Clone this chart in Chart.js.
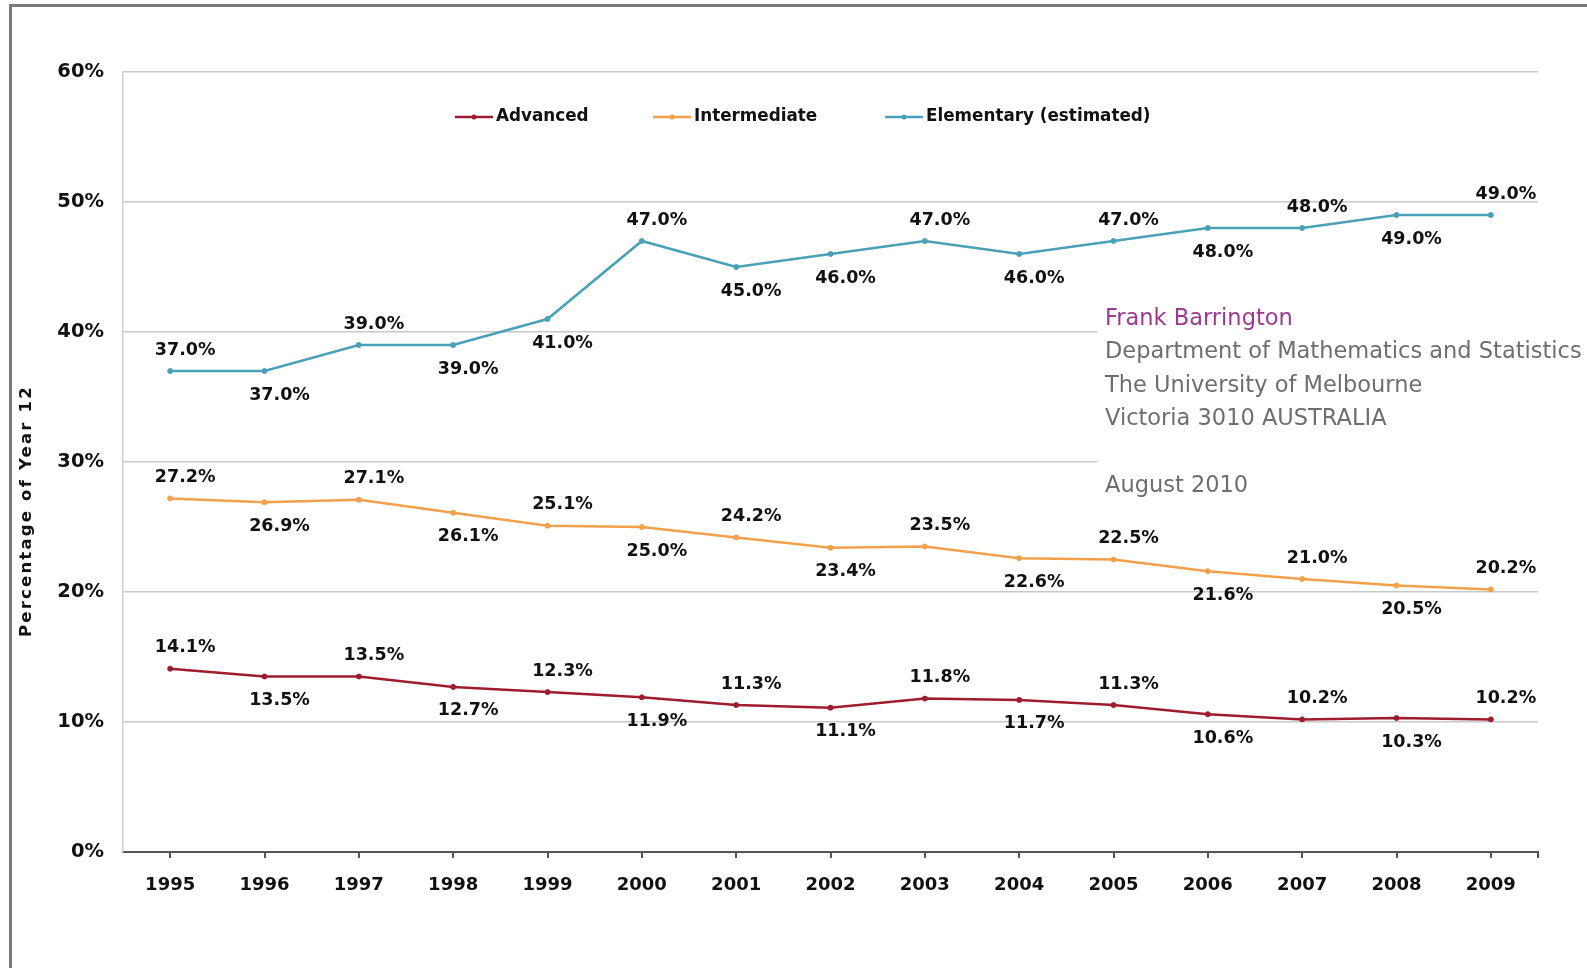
<!DOCTYPE html>
<html>
<head>
<meta charset="utf-8">
<script src="https://cdn.jsdelivr.net/npm/chart.js@4/dist/chart.umd.min.js"></script>
<style>
  html, body { margin: 0; padding: 0; background: #fff; }
  #wrap { position: relative; width: 1587px; height: 968px; }
  #frame {
    position: absolute; left: 9px; top: 4px; right: 0; bottom: -4px;
    border-top: 3px solid #7a7a7a; border-left: 3px solid #7a7a7a;
    pointer-events: none;
  }
</style>
</head>
<body>
<div id="wrap">
  <canvas id="year12-chart" width="1587" height="968"></canvas>
  <div id="frame"></div>
</div>
<script>
const years = ['1995', '1996', '1997', '1998', '1999', '2000', '2001', '2002',
  '2003', '2004', '2005', '2006', '2007', '2008', '2009'];
const advanced = [14.1, 13.5, 13.5, 12.7, 12.3, 11.9, 11.3, 11.1, 11.8, 11.7, 11.3, 10.6, 10.2, 10.3, 10.2];
const intermediate = [27.2, 26.9, 27.1, 26.1, 25.1, 25.0, 24.2, 23.4, 23.5, 22.6, 22.5, 21.6, 21.0, 20.5, 20.2];
const elementary = [37.0, 37.0, 39.0, 39.0, 41.0, 47.0, 45.0, 46.0, 47.0, 46.0, 47.0, 48.0, 48.0, 49.0, 49.0];
const yTicks = [0, 10, 20, 30, 40, 50, 60];
const creditLines = ['Frank Barrington', 'Department of Mathematics and Statistics',
  'The University of Melbourne', 'Victoria 3010 AUSTRALIA', '', 'August 2010'];

// label placement per point: 'a' above, 'b' below
const alternate = years.map((y, i) => (i % 2 === 0 ? 'a' : 'b'));
const elementaryPlace = ['a', 'b', 'a', 'b', 'b', 'a', 'b', 'b', 'a', 'b', 'a', 'b', 'a', 'b', 'a'];

const FAMILY = '"DejaVu Sans", Verdana, sans-serif';

function series(label, data, color, place) {
  return {
    label, data, place,
    borderColor: color, backgroundColor: color,
    pointBackgroundColor: color, pointBorderColor: color,
    borderWidth: 2.5, pointRadius: 2.5, pointBorderWidth: 1, pointHoverRadius: 2.5,
    tension: 0
  };
}

const pointLabels = {
  id: 'pointLabels',
  afterDatasetsDraw(chart) {
    const ctx = chart.ctx;
    ctx.save();
    ctx.font = 'bold 17.5px ' + FAMILY;
    ctx.fillStyle = '#111';
    ctx.textAlign = 'center';
    ctx.textBaseline = 'middle';
    chart.data.datasets.forEach((ds, di) => {
      chart.getDatasetMeta(di).data.forEach((pt, i) => {
        const dy = ds.place[i] === 'a' ? -21 : 24;
        ctx.fillText(ds.data[i].toFixed(1) + '%', pt.x + 15, pt.y + dy);
      });
    });
    ctx.restore();
  }
};

const extras = {
  id: 'extras',
  beforeDatasetsDraw(chart) {
    const ctx = chart.ctx;
    ctx.save();
    // credit block covers grid lines
    ctx.fillStyle = '#fff';
    ctx.fillRect(1097, 296, 490, 212);
    ctx.font = '22.5px ' + FAMILY;
    ctx.textBaseline = 'middle';
    ctx.textAlign = 'left';
    creditLines.forEach((t, i) => {
      ctx.fillStyle = i === 0 ? '#9b3a8e' : '#6e6e6e';
      ctx.fillText(t, 1105, 319 + i * 33.4);
    });
    ctx.restore();
  },
  afterDraw(chart) {
    const ctx = chart.ctx;
    ctx.save();
    // y axis title
    ctx.translate(27, 511);
    ctx.rotate(-Math.PI / 2);
    ctx.font = 'bold 16.5px ' + FAMILY;
    ctx.letterSpacing = '2.2px';
    ctx.fillStyle = '#111';
    ctx.textAlign = 'center';
    ctx.textBaseline = 'middle';
    ctx.fillText('Percentage of Year 12', 0, 0);
    ctx.restore();

    // legend
    ctx.save();
    ctx.font = 'bold 16.8px ' + FAMILY;
    ctx.textBaseline = 'middle';
    const xs = [455, 653, 885];
    chart.data.datasets.forEach((ds, i) => {
      const x = xs[i], y = 117;
      ctx.strokeStyle = ds.borderColor;
      ctx.lineWidth = 2.5;
      ctx.beginPath(); ctx.moveTo(x, y); ctx.lineTo(x + 38, y); ctx.stroke();
      ctx.fillStyle = ds.borderColor;
      ctx.beginPath(); ctx.arc(x + 19, y, 2.5, 0, Math.PI * 2); ctx.fill();
      ctx.fillStyle = '#111';
      ctx.fillText(ds.label, x + 41, y);
    });
    ctx.restore();

    // closing tick at the right end of the x axis
    const area = chart.chartArea;
    ctx.save();
    ctx.strokeStyle = '#555';
    ctx.lineWidth = 2;
    ctx.beginPath(); ctx.moveTo(area.right, area.bottom); ctx.lineTo(area.right, area.bottom + 6); ctx.stroke();
    ctx.restore();
  }
};

new Chart(document.getElementById('year12-chart'), {
  type: 'line',
  data: {
    labels: years,
    datasets: [
      series('Advanced', advanced, '#9e1c2c', alternate),
      series('Intermediate', intermediate, '#f2a04c', alternate),
      series('Elementary (estimated)', elementary, '#4aa0b8', elementaryPlace)
    ]
  },
  options: {
    responsive: false,
    animation: false,
    layout: { padding: { top: 72, right: 49, bottom: 0, left: 0 } },
    plugins: { legend: { display: false }, tooltip: { enabled: false } },
    scales: {
      x: {
        offset: true,
        afterFit: s => { s.height = 116; },
        border: { display: true, color: '#555', width: 2 },
        grid: { drawOnChartArea: false, drawTicks: true, tickLength: 6, color: '#555', lineWidth: 2, offset: false },
        ticks: { font: { family: FAMILY, size: 18, weight: 'bold' }, color: '#111', padding: 17 }
      },
      y: {
        min: 0, max: 60,
        afterFit: s => { s.width = 123; },
        afterBuildTicks: s => { s.ticks = yTicks.map(v => ({ value: v })); },
        border: { display: true, color: '#d0d0d0', width: 1.5 },
        grid: { drawTicks: false, color: c => (c.tick.value === 0 ? 'rgba(0,0,0,0)' : '#c8c8c8'), lineWidth: 1.5 },
        ticks: {
          font: { family: FAMILY, size: 19.5, weight: 'bold' },
          color: '#111', padding: 19,
          callback: v => v + '%'
        }
      }
    }
  },
  plugins: [extras, pointLabels]
});
</script>
</body>
</html>
